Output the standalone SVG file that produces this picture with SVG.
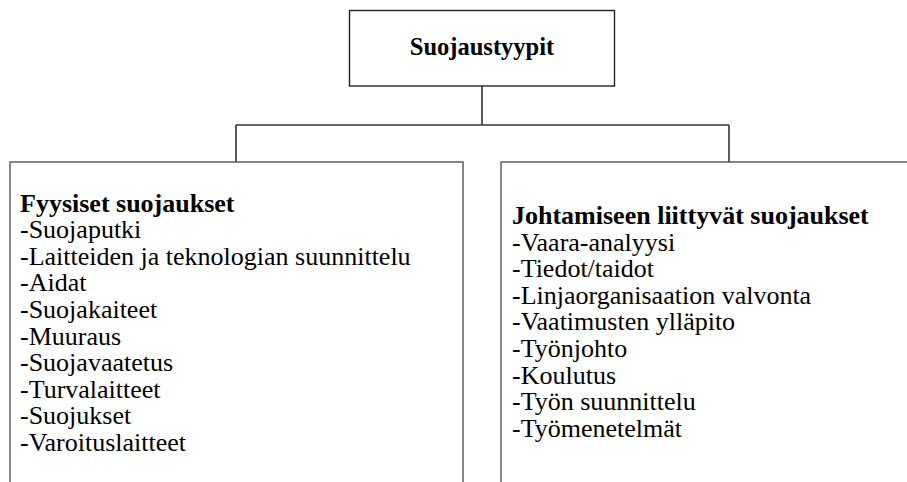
<svg xmlns="http://www.w3.org/2000/svg" width="907" height="482" viewBox="0 0 907 482">
  <style>
    .box { fill: #ffffff; stroke: #555555; stroke-width: 1.4; }
    .top { stroke: #222222; }
    .wire { fill: none; stroke: #333333; stroke-width: 1.6; }
  </style>
  <rect width="907" height="482" fill="#ffffff"/>

  <!-- tree connectors: root down to the bus, bus down to both boxes -->
  <g id="connectors">
    <path class="wire" d="M482,86 V125"/>
    <path class="wire" d="M236,125 H729"/>
    <path class="wire" d="M236,125 V162"/>
    <path class="wire" d="M729,125 V162"/>
  </g>

  <g id="suojaustyypit">
    <rect class="box top" x="349.5" y="10.5" width="265" height="75.5"/>
    <text font-family="Liberation Serif, Times New Roman, serif" font-size="24.5" font-weight="bold" x="482" y="55" text-anchor="middle">Suojaustyypit</text>
  </g>

  <g id="fyysiset" font-family="Liberation Serif, Times New Roman, serif" font-size="26">
    <rect class="box" x="10" y="162" width="453" height="340"/>
    <text x="20" y="211.5" font-weight="bold">Fyysiset suojaukset</text>
    <text x="20" y="238.1">-Suojaputki</text>
    <text x="20" y="264.7">-Laitteiden ja teknologian suunnittelu</text>
    <text x="20" y="291.3">-Aidat</text>
    <text x="20" y="317.9">-Suojakaiteet</text>
    <text x="20" y="344.5">-Muuraus</text>
    <text x="20" y="371.1">-Suojavaatetus</text>
    <text x="20" y="397.7">-Turvalaitteet</text>
    <text x="20" y="424.3">-Suojukset</text>
    <text x="20" y="450.9">-Varoituslaitteet</text>
  </g>

  <g id="johtaminen" font-family="Liberation Serif, Times New Roman, serif" font-size="26">
    <rect class="box" x="501" y="162" width="460" height="340"/>
    <text x="512" y="224" font-weight="bold">Johtamiseen liittyvät suojaukset</text>
    <text x="512" y="250.6">-Vaara-analyysi</text>
    <text x="512" y="277.2">-Tiedot/taidot</text>
    <text x="512" y="303.8">-Linjaorganisaation valvonta</text>
    <text x="512" y="330.4">-Vaatimusten ylläpito</text>
    <text x="512" y="357">-Työnjohto</text>
    <text x="512" y="383.6">-Koulutus</text>
    <text x="512" y="410.2">-Työn suunnittelu</text>
    <text x="512" y="436.8">-Työmenetelmät</text>
  </g>
</svg>
